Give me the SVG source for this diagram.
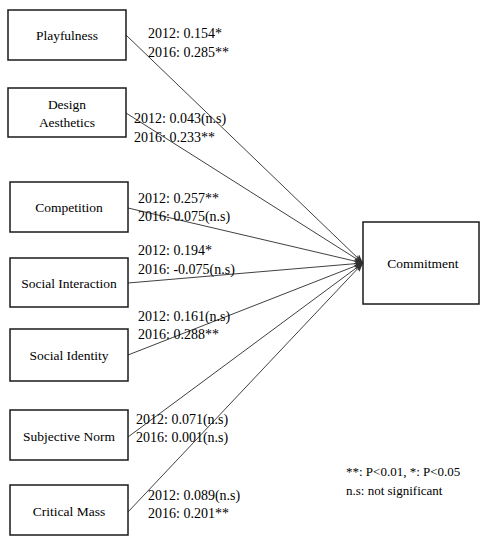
<svg xmlns="http://www.w3.org/2000/svg" width="480" height="536" viewBox="0 0 480 536">
<style>
.box{fill:#fff;stroke:#1a1a1a;stroke-width:1.5}
.nt{font-family:"Liberation Serif","Times New Roman",serif;font-size:13.5px;fill:#000;text-anchor:middle}
.lb{font-family:"Liberation Serif","Times New Roman",serif;font-size:14px;fill:#000}
.ln{stroke:#404040;stroke-width:1;fill:none;marker-end:url(#ah)}
</style>
<defs>
<marker id="ah" markerWidth="10" markerHeight="8" refX="9" refY="4" orient="auto" markerUnits="userSpaceOnUse">
<path d="M0,0.5 L9,4 L0,7.5 L2.5,4 Z" fill="#303030"/>
</marker>
</defs>
<rect width="480" height="536" fill="#fff"/>
<g id="connectors">
<line class="ln" x1="126" y1="35" x2="363" y2="263"/>
<line class="ln" x1="126" y1="113" x2="363" y2="263"/>
<line class="ln" x1="128" y1="208" x2="363" y2="263"/>
<line class="ln" x1="128" y1="283" x2="363" y2="263"/>
<line class="ln" x1="128" y1="355" x2="363" y2="263"/>
<line class="ln" x1="128" y1="437" x2="363" y2="263"/>
<line class="ln" x1="128" y1="512" x2="363" y2="263"/>
</g>
<g id="playfulness">
<rect class="box" x="8" y="10" width="118" height="50"/>
<text class="nt" x="67" y="40">Playfulness</text>
</g>
<g id="design-aesthetics">
<rect class="box" x="8" y="88" width="118" height="49"/>
<text class="nt" x="67" y="109">Design</text>
<text class="nt" x="67" y="127">Aesthetics</text>
</g>
<g id="competition">
<rect class="box" x="10" y="182" width="118" height="50"/>
<text class="nt" x="69" y="212">Competition</text>
</g>
<g id="social-interaction">
<rect class="box" x="10" y="258" width="118" height="49"/>
<text class="nt" x="69" y="288">Social Interaction</text>
</g>
<g id="social-identity">
<rect class="box" x="10" y="329" width="118" height="52"/>
<text class="nt" x="69" y="360">Social Identity</text>
</g>
<g id="subjective-norm">
<rect class="box" x="10" y="410" width="118" height="50"/>
<text class="nt" x="69" y="441">Subjective Norm</text>
</g>
<g id="critical-mass">
<rect class="box" x="10" y="485" width="118" height="50"/>
<text class="nt" x="69" y="516">Critical Mass</text>
</g>
<g id="commitment">
<rect class="box" x="363" y="222" width="116" height="82"/>
<text class="nt" x="423" y="268">Commitment</text>
</g>
<g id="labels">
<text class="lb" x="148" y="38">2012: 0.154*</text>
<text class="lb" x="148" y="57">2016: 0.285**</text>
<text class="lb" x="134" y="123">2012: 0.043(n.s)</text>
<text class="lb" x="134" y="142">2016: 0.233**</text>
<text class="lb" x="138" y="203">2012: 0.257**</text>
<text class="lb" x="138" y="221">2016: 0.075(n.s)</text>
<text class="lb" x="138" y="255">2012: 0.194*</text>
<text class="lb" x="138" y="274">2016: -0.075(n.s)</text>
<text class="lb" x="138" y="321">2012: 0.161(n.s)</text>
<text class="lb" x="138" y="339">2016: 0.288**</text>
<text class="lb" x="136" y="424">2012: 0.071(n.s)</text>
<text class="lb" x="136" y="442">2016: 0.001(n.s)</text>
<text class="lb" x="148" y="500">2012: 0.089(n.s)</text>
<text class="lb" x="148" y="518">2016: 0.201**</text>
<text class="lb" x="346" y="476" style="font-size:13px">**: P&lt;0.01, *: P&lt;0.05</text>
<text class="lb" x="346" y="495" style="font-size:13px">n.s: not significant</text>
</g>
</svg>
